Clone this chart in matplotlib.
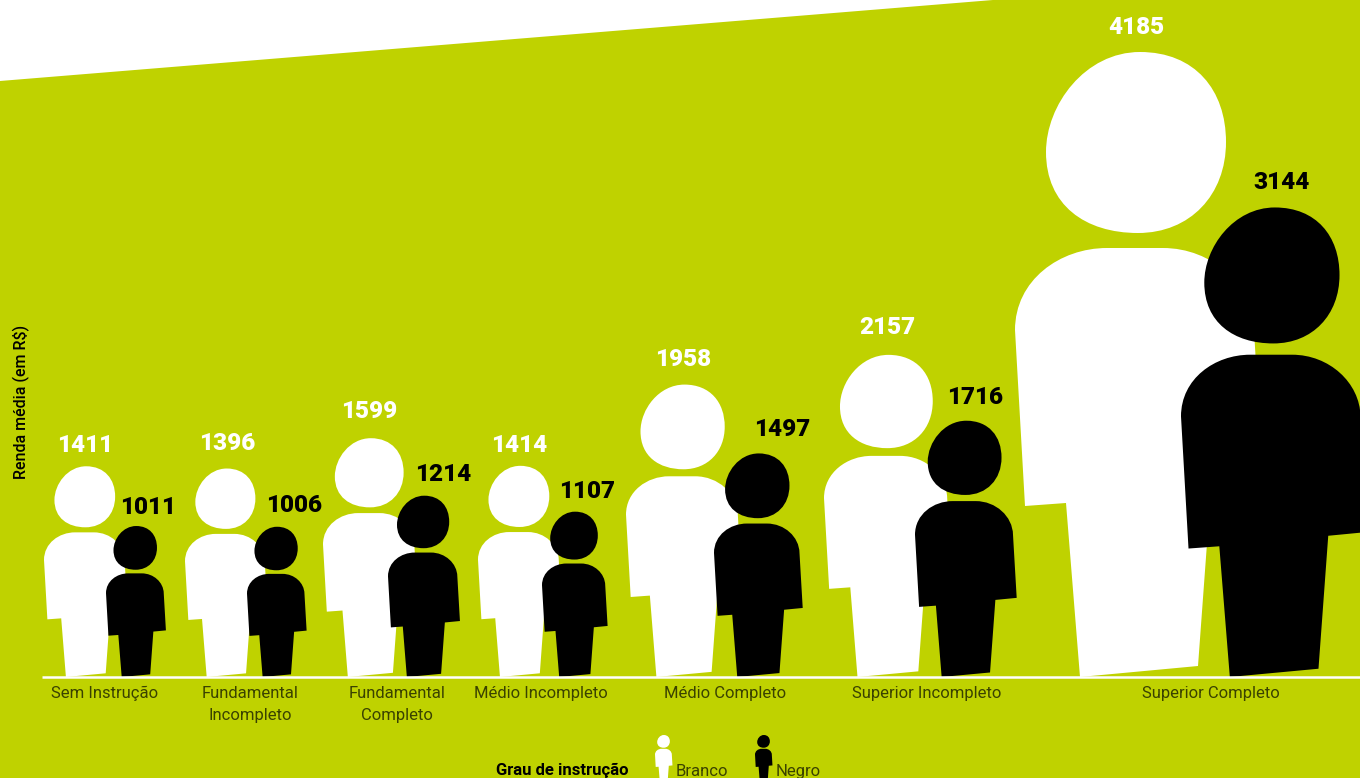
#!/usr/bin/env python3
import matplotlib
matplotlib.use("Agg")
import matplotlib.pyplot as plt
from matplotlib.path import Path
from matplotlib.patches import PathPatch, Polygon
from matplotlib.transforms import Affine2D

# ---------------------- dados ----------------------
categories = ["Sem Instrução", "Fundamental\nIncompleto", "Fundamental\nCompleto",
              "Médio Incompleto", "Médio Completo", "Superior Incompleto", "Superior Completo"]
branco = [1411, 1396, 1599, 1414, 1958, 2157, 4185]
negro = [1011, 1006, 1214, 1107, 1497, 1716, 3144]

# ---------------------- layout (pixels) ----------------------
W, H = 1360, 778
BASE_PX = 677
K = 625 / 4185  # pixels por R$
LIME = "#bfd200"
TXT = "#3a4200"
FONT = ["Roboto", "DejaVu Sans"]

left_branco = [44, 185, 323, 478, 626, 824, 1015]
left_negro = [106, 247, 388, 542, 714, 915, 1181]
label_x_branco = [85, 227, 369, 519, 683, 887, 1136]
label_x_negro = [148, 294, 443, 587, 782, 975, 1282]
label_y_branco = [445, 443, 412, 445, 359, 327, 27]
label_y_negro = [507, 505, 474, 491, 430, 397, 182]
cat_x = [105, 250, 397, 541, 725, 927, 1211]


def person_path():
    # desenho da figura maior, normalizado pela altura total
    def u(x, y):
        return ((x - 1015) / 625, (677 - y) / 625)

    head_v = [u(1140, 52),
              u(1195, 52), u(1226, 90), u(1226, 142),
              u(1226, 195), u(1190, 233), u(1138, 233),
              u(1085, 233), u(1046, 205), u(1046, 152),
              u(1046, 105), u(1085, 52), u(1140, 52),
              u(1140, 52)]
    head_c = [Path.MOVETO] + [Path.CURVE4] * 12 + [Path.CLOSEPOLY]

    body_v = [u(1015, 330),
              u(1015, 280), u(1060, 248), u(1107, 248),
              u(1163, 248),
              u(1212, 248), u(1253, 285), u(1254, 330),
              u(1263, 484), u(1211, 489), u(1198, 666), u(1080, 677),
              u(1066, 503), u(1025, 506), u(1015, 330)]
    body_c = [Path.MOVETO] + [Path.CURVE4] * 3 + [Path.LINETO] + [Path.CURVE4] * 3 + \
             [Path.LINETO] * 6 + [Path.CLOSEPOLY]
    return Path(head_v + body_v, head_c + body_c)


PERSON = person_path()


def py(px):
    """Converte linha em pixels da imagem para o eixo de renda."""
    return (BASE_PX - px) / K


def draw_person(ax, left, value, color, base=0.0, z=2):
    tr = Affine2D().scale(value * K, value).translate(left, base) + ax.transData
    ax.add_patch(PathPatch(PERSON, facecolor=color, edgecolor="none", transform=tr, zorder=z))


fig = plt.figure(figsize=(W / 100, H / 100), dpi=100, facecolor="white")
ax = fig.add_axes([0, 0, 1, 1])
ax.set_xlim(0, W)
ax.set_ylim(py(H), py(0))
ax.axis("off")

# fundo com o topo inclinado
ax.add_patch(Polygon([(0, py(81)), (993, py(0)), (W, py(0)), (W, py(H)), (0, py(H))],
                     closed=True, facecolor=LIME, edgecolor="none", zorder=0))

for i in range(len(categories)):
    draw_person(ax, left_branco[i], branco[i], "white", z=2)
for i in range(len(categories)):
    draw_person(ax, left_negro[i], negro[i], "black", z=3)

ax.plot([42, W], [0, 0], color="white", lw=1.8, zorder=4, solid_capstyle="butt")

for i, cat in enumerate(categories):
    ax.text(label_x_branco[i], py(label_y_branco[i]), str(branco[i]), color="white",
            ha="center", va="center", fontsize=17.5, fontweight="black", family=FONT, zorder=5)
    ax.text(label_x_negro[i], py(label_y_negro[i]), str(negro[i]), color="black",
            ha="center", va="center", fontsize=17.5, fontweight="black", family=FONT, zorder=5)
    ax.text(cat_x[i], py(686), cat, color=TXT, ha="center", va="top", fontsize=12,
            fontweight="normal", family=FONT, linespacing=1.55, zorder=5)

ax.text(21, py(402), "Renda média (em R$)", rotation=90, color="black", ha="center", va="center",
        fontsize=11.5, fontweight="medium", family=FONT)

# legenda
LEG_VALUE = 44 / K
draw_person(ax, 655, LEG_VALUE, "white", base=py(779))
draw_person(ax, 755, LEG_VALUE, "black", base=py(779))
ax.text(496, py(775), "Grau de instrução", color="black", ha="left", va="baseline",
        fontsize=12, fontweight="bold", family=FONT)
ax.text(676, py(776), "Branco", color=TXT, ha="left", va="baseline", fontsize=12,
        fontweight="normal", family=FONT)
ax.text(776, py(776), "Negro", color=TXT, ha="left", va="baseline", fontsize=12,
        fontweight="normal", family=FONT)

fig.savefig("out.png", dpi=100, facecolor="white")
